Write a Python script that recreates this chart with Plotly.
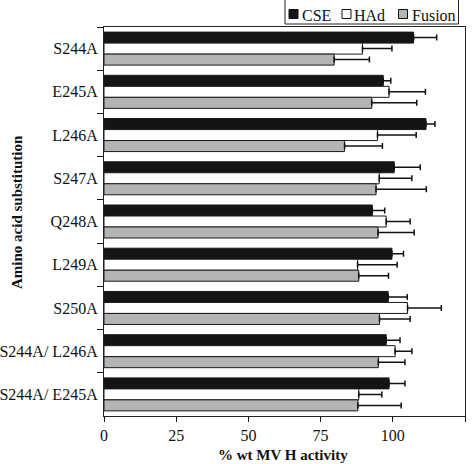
import plotly.graph_objects as go

categories = ["S244A", "E245A", "L246A", "S247A", "Q248A", "L249A", "S250A",
              "S244A/ L246A", "S244A/ E245A"]
cse = [107.2, 96.7, 111.5, 100.5, 92.9, 99.7, 98.4, 97.7, 98.7]
cse_err = [8.0, 2.6, 3.1, 9.0, 4.3, 4.0, 6.6, 4.8, 5.5]
had = [89.5, 98.7, 94.7, 95.3, 97.7, 87.8, 105.1, 100.8, 88.2]
had_err = [10.2, 12.6, 13.4, 11.3, 8.3, 13.7, 11.7, 5.8, 8.0]
fusion = [79.7, 92.7, 83.3, 94.2, 94.9, 88.2, 95.4, 95.0, 87.9]
fusion_err = [12.2, 15.6, 13.1, 17.4, 12.5, 10.3, 10.6, 9.2, 15.0]
series_names = ["CSE", "HAd", "Fusion"]
x_ticks = [0, 25, 50, 75, 100, 125]

SERIF = "Liberation Serif"
colors = ["#141414", "#ffffff", "#b4b4b4"]

# plot-area geometry (pixels) used to place the hand-drawn legend box
L, R, T, B = 104, 465, 27, 416


def px_x(p):
    return (p - L) / (R - L)


def px_y(p):
    return (B - p) / (B - T)


fig = go.Figure()
for name, vals, errs, color in zip(series_names, [cse, had, fusion],
                                   [cse_err, had_err, fusion_err], colors):
    fig.add_trace(go.Bar(
        y=categories, x=vals, name=name, orientation="h", showlegend=False,
        marker=dict(color=color, line=dict(color="#1a1a1a", width=1)),
        error_x=dict(type="data", array=errs, arrayminus=[0] * len(errs),
                     symmetric=False, color="#111111", thickness=1.5, width=3),
    ))

# legend (box, swatches and labels)
shapes = [dict(type="rect", xref="paper", yref="paper",
               x0=px_x(285), x1=px_x(458.5), y0=px_y(-2), y1=px_y(24),
               line=dict(color="#222222", width=1), fillcolor="white")]
annotations = []
sw_x = [289, 342, 398.5]
tx_x = [300.5, 353, 410.5]
for name, color, sx, tx in zip(series_names, colors, sw_x, tx_x):
    shapes.append(dict(type="rect", xref="paper", yref="paper",
                       x0=px_x(sx), x1=px_x(sx + 9), y0=px_y(18.5), y1=px_y(9.5),
                       line=dict(color="#111111", width=1), fillcolor=color))
    annotations.append(dict(text=name, xref="paper", yref="paper",
                            x=px_x(tx - 1), y=px_y(15.5), xanchor="left",
                            yanchor="middle", showarrow=False,
                            font=dict(family=SERIF, size=16, color="#111111")))

annotations.append(dict(text="Amino acid substitution", textangle=-90,
                        xref="paper", yref="paper", x=px_x(17), y=px_y(212),
                        xanchor="center", yanchor="middle", showarrow=False,
                        font=dict(family=SERIF, size=15, weight="bold",
                                  color="#111111")))
annotations.append(dict(text="% wt MV H activity",
                        xref="paper", yref="paper", x=px_x(283), y=px_y(455),
                        xanchor="center", yanchor="middle", showarrow=False,
                        font=dict(family=SERIF, size=15, weight="bold",
                                  color="#111111")))

fig.update_layout(
    width=474, height=464,
    margin=dict(l=L, r=474 - R, t=T, b=464 - B, autoexpand=False),
    paper_bgcolor="white", plot_bgcolor="white",
    barmode="group", bargap=0.236, bargroupgap=0,
    font=dict(family=SERIF, color="#111111"),
    showlegend=False,
    xaxis=dict(range=[0, 125], tickvals=x_ticks, ticks="outside", ticklen=5,
               tickwidth=1.2, tickcolor="#111111", automargin=False,
               showline=True, linecolor="#222222", linewidth=1.2, mirror=True,
               showgrid=False, zeroline=False,
               tickfont=dict(family=SERIF, size=16, color="#111111")),
    yaxis=dict(autorange="reversed", ticks="outside", ticklen=6, tickwidth=1.2,
               tickcolor="#111111", tickson="boundaries", automargin=False,
               ticklabelstandoff=2,
               showline=True, linecolor="#222222", linewidth=1.2, mirror=True,
               showgrid=False, zeroline=False,
               tickfont=dict(family=SERIF, size=16, color="#111111")),
    shapes=shapes,
    annotations=annotations,
)

fig.write_html("out.html")
